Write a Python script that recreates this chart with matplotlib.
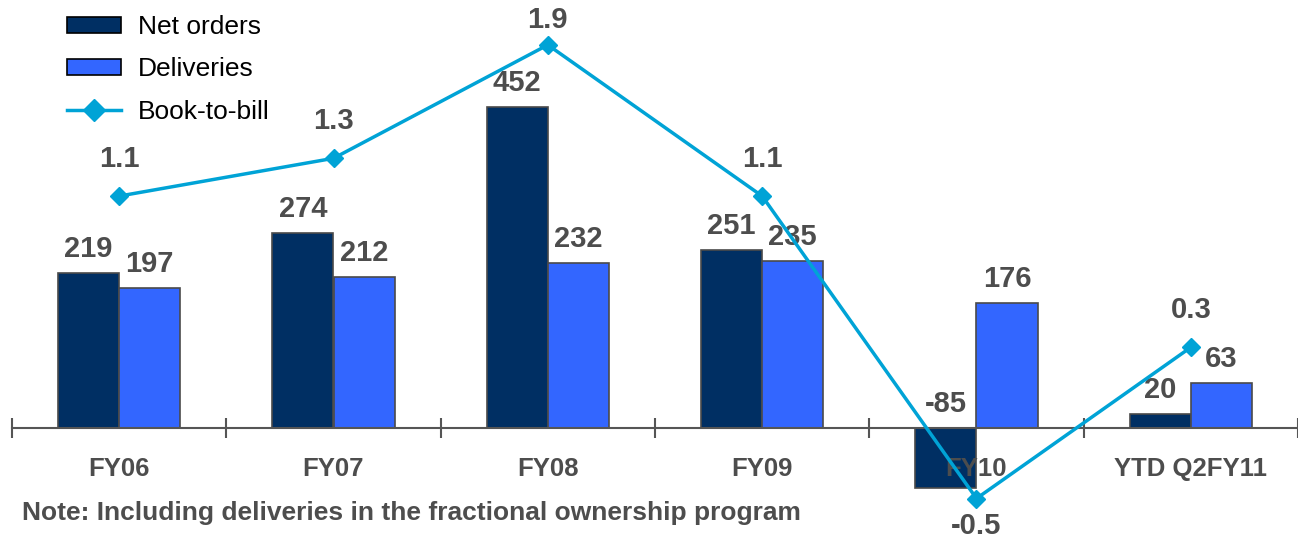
import numpy as np
import matplotlib
matplotlib.use("Agg")
from matplotlib import pyplot as plt
from matplotlib.lines import Line2D
from matplotlib.patches import Patch

# orders / deliveries per fiscal year, plus book-to-bill ratio
years = ["FY06", "FY07", "FY08", "FY09", "FY10", "YTD Q2FY11"]
net_orders = [219, 274, 452, 251, -85, 20]
deliveries = [197, 212, 232, 235, 176, 63]
book_to_bill = [1.1, 1.3, 1.9, 1.1, -0.5, 0.3]

NAVY = "#002F63"
BLUE = "#3366FF"
CYAN = "#00A3D6"
GREY = "#4D4D4D"
EDGE = "#4A4A4A"

plt.rcParams["font.family"] = ["Liberation Sans", "DejaVu Sans"]

W, H = 1298, 541
fig = plt.figure(figsize=(W / 100, H / 100), dpi=100)

# axes frame in pixels: x from 12 to 1298, y from 10 to 510 (from top)
top_px, bot_px = 10, 510
ax = fig.add_axes([12 / W, (H - bot_px) / H, (W - 12) / W, (bot_px - top_px) / H])

x = np.arange(len(years))
bw = 0.285

ax.bar(x - bw / 2, net_orders, bw, color=NAVY, edgecolor=EDGE, linewidth=1.2, zorder=1)
ax.bar(x + bw / 2, deliveries, bw, color=BLUE, edgecolor=EDGE, linewidth=1.2, zorder=1)

# bar scale: 0 at y=428px, 0.71 px per unit
base_px, k_bar = 428, 0.71
ax.set_ylim(-(bot_px - base_px) / k_bar, (base_px - top_px) / k_bar)
ax.set_xlim(-0.5, len(years) - 0.5)

lbl_kw = dict(textcoords="offset pixels", ha="center", va="center",
              fontsize=21, fontweight="bold", color=GREY)
for xi, v in zip(x - bw / 2, net_orders):
    ax.annotate(str(v), (xi, max(v, 0)), xytext=(0, 24), **lbl_kw)
for xi, v in zip(x + bw / 2, deliveries):
    ax.annotate(str(v), (xi, v), xytext=(0, 24), **lbl_kw)

for s in ["top", "right", "left"]:
    ax.spines[s].set_visible(False)
ax.spines["bottom"].set_position(("data", 0))
ax.spines["bottom"].set_color("#555555")
ax.spines["bottom"].set_linewidth(1.5)
ax.set_yticks([])
ax.set_xticks(np.arange(-0.5, len(years)), labels=[])
ax.tick_params(axis="x", which="major", direction="inout", length=14, width=1.5, color="#555555")
ax.set_xticks(x, labels=years, minor=True)
ax.tick_params(axis="x", which="minor", length=0, pad=21, labelsize=18.5, labelcolor=GREY)
for lbl in ax.get_xticklabels(minor=True):
    lbl.set_fontweight("bold")

# book-to-bill on its own scale: 0 at y=404px, 189 px per unit
ax2 = ax.twinx()
zero_px, k_line = 404, 189
ax2.set_ylim(-(bot_px - zero_px) / k_line, (zero_px - top_px) / k_line)
ax2.plot(x, book_to_bill, color=CYAN, linewidth=2.5, marker="D", markersize=9, zorder=3)
ax2.axis("off")
for xi, v in zip(x, book_to_bill):
    if v < 0:
        dy = -27
    else:
        # keep the label inside the figure near the top edge
        dy = min(37, zero_px - v * k_line - 20)
    ax2.annotate(f"{v:.1f}", (xi, v), xytext=(0, dy), **lbl_kw)

handles = [
    Patch(facecolor=NAVY, edgecolor="black", linewidth=1.2),
    Patch(facecolor=BLUE, edgecolor="black", linewidth=1.2),
    Line2D([], [], color=CYAN, linewidth=2.5, marker="D", markersize=11),
]
fig.legend(handles, ["Net orders", "Deliveries", "Book-to-bill"], loc="upper left",
           bbox_to_anchor=(67 / W, 1 - 15 / H), frameon=False, fontsize=19,
           borderpad=0, borderaxespad=0, handlelength=2.05, handleheight=0.55,
           labelspacing=0.7, handletextpad=0.64)

fig.text(22 / W, 1 - 513 / H, "Note: Including deliveries in the fractional ownership program",
         ha="left", va="center", fontsize=19, fontweight="bold", color=GREY)

fig.savefig("out.png", dpi=100)
